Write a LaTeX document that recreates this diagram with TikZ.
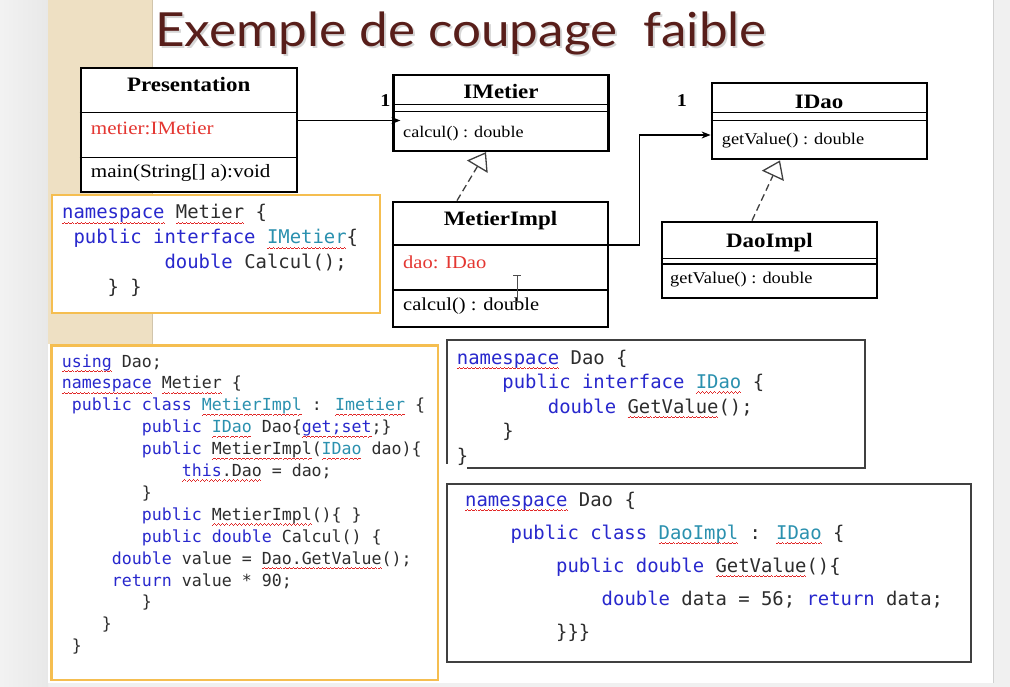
\documentclass[tikz,border=0pt]{standalone}
\usepackage{fontspec}
\usetikzlibrary{arrows.meta}
\setmainfont{Liberation Serif}
\newfontfamily\umlfont[FakeStretch=1.12]{Liberation Serif}
\newfontfamily\codefont{DejaVu Sans Mono}
\newfontfamily\titlefont[FakeStretch=1.09]{Lato}

\definecolor{kwblue}{RGB}{40,40,205}
\definecolor{tyteal}{RGB}{43,145,175}
\definecolor{codegray}{RGB}{45,45,45}
\definecolor{sqred}{RGB}{225,40,40}
\definecolor{attrred}{RGB}{228,55,50}
\definecolor{frameorange}{RGB}{245,190,80}
\definecolor{beige}{RGB}{238,224,195}
\definecolor{titlebrown}{RGB}{88,30,26}
\definecolor{pagegray}{RGB}{240,240,240}

% keyword / type colouring and the spell-checker wave under a word
\newcommand\kw[1]{\textcolor{kwblue}{#1}}
\newcommand\ty[1]{\textcolor{tyteal}{#1}}
\newcommand\wavecell{\rule[0pt]{1pt}{0.7pt}\rule[0.7pt]{1pt}{0.7pt}\rule[1.4pt]{1pt}{0.7pt}\rule[0.7pt]{1pt}{0.7pt}}
\newsavebox\sqbox
\newcommand\sq[1]{\sbox\sqbox{#1}\rlap{\raisebox{-5pt}[0pt][0pt]{\hbox to \wd\sqbox{\color{sqred}\xleaders\hbox{\wavecell}\hfill}}}\usebox\sqbox}
\newcommand\ind[1]{\hspace*{#1\fontcharwd\font`\0}}
% one code line: style, name, x, baseline y, text
\newcommand\cl[5]{\node[#1] (#2) at (#3,#4) {#5};}

\begin{document}
\begin{tikzpicture}[x=1pt,y=-1pt,
  umlbox/.style={draw=black, line width=2.2pt, fill=white, inner sep=0pt, minimum width=215pt},
  div/.style={line width=1.2pt},
  utitle/.style={font=\umlfont\bfseries\fontsize{20.5}{24}\selectfont, inner sep=0pt, anchor=base},
  utext/.style={font=\umlfont\fontsize{#1}{20}\selectfont, inner sep=0pt, anchor=base west},
  mult/.style={font=\umlfont\bfseries\fontsize{18}{20}\selectfont, inner sep=0pt},
  assoc/.style={line width=1.2pt, -{Stealth[length=9pt,width=7pt]}},
  realize/.style={line width=1.3pt, draw=black!75, dash pattern=on 7pt off 4pt,
    -{Triangle[open,length=17pt,width=24pt]}},
  codeA/.style={font=\codefont\fontsize{18.9}{22}\selectfont, text=codegray, inner sep=0pt, anchor=base west},
  codeB/.style={font=\codefont\fontsize{16.6}{20}\selectfont, text=codegray, inner sep=0pt, anchor=base west},
  orangeframe/.style={draw=frameorange, line width=2.5pt, fill=white},
  grayframe/.style={draw=black!75, line width=1.2pt}
]
\useasboundingbox (0,0) rectangle (1010,687);

% page, side margins and slide
\fill[pagegray] (0,0) rectangle (1010,687);
\shade[left color=black!5, right color=black!9] (0,0) rectangle (48,687);
\fill[white] (48,0) rectangle (993,683);
\draw[black!18, line width=1pt] (993,0) -- (993,683);
\fill[beige] (48,0) rectangle (153,344);
\draw[black!12!beige, line width=1pt] (152.5,0) -- (152.5,344);

% title with its soft shadow
\node[anchor=base west, inner sep=0pt, text=black!35, opacity=0.45] (titleshadow) at (157,49)
  {\titlefont\fontsize{47}{50}\selectfont Exemple de coupage\ \ faible};
\node[anchor=base west, inner sep=0pt, text=titlebrown] (title) at (155,47)
  {\titlefont\fontsize{47}{50}\selectfont Exemple de coupage\ \ faible};

% ---------- UML classes ----------
\node[umlbox, minimum width=216pt, minimum height=123.4pt] (P) at (188.7,130) {};
\draw[div] (P.west |- 0,112.3) -- (P.east |- 0,112.3);
\draw[div] (P.west |- 0,157.7) -- (P.east |- 0,157.7);
\node[utitle] (Pt) at (188.7,91.7) {Presentation};
\node[utext=18.8, text=attrred] (Pa) at (90.7,135) {metier:IMetier};
\node[utext=18.8] (Pm) at (90.7,177.3) {main(String[] a):void};

\node[umlbox, minimum height=76pt] (IM) at (501,113) {};
\draw[div] (IM.west |- 0,104.3) -- (IM.east |- 0,104.3);
\draw[div] (IM.west |- 0,111.7) -- (IM.east |- 0,111.7);
\node[utitle] (IMt) at (501,98.3) {IMetier};
\node[utext=16.2] (IMm) at (403,137.3) {calcul() : double};

\node[umlbox, minimum height=125pt] (MI) at (500.5,264.2) {};
\draw[div] (MI.west |- 0,245) -- (MI.east |- 0,245);
\draw[div] (MI.west |- 0,290) -- (MI.east |- 0,290);
\node[utitle] (MIt) at (500.5,225.7) {MetierImpl};
\node[utext=18.3, text=attrred] (MIa) at (403,268.3) {dao: IDao};
\node[utext=18.3] (MIm) at (403,310.7) {calcul() : double};

\node[umlbox, minimum height=76.6pt] (ID) at (819.2,121) {};
\draw[div] (ID.west |- 0,112.7) -- (ID.east |- 0,112.7);
\draw[div] (ID.west |- 0,120.2) -- (ID.east |- 0,120.2);
\node[utitle] (IDt) at (819.2,108.3) {IDao};
\node[utext=16.4] (IDm) at (721.7,145) {getValue() : double};

\node[umlbox, minimum width=215.6pt, minimum height=76.6pt] (DI) at (769.5,260) {};
\draw[div] (DI.west |- 0,258.3) -- (DI.east |- 0,258.3);
\draw[div] (DI.west |- 0,264) -- (DI.east |- 0,264);
\node[utitle] (DIt) at (769.5,247.3) {DaoImpl};
\node[utext=16.4] (DIm) at (670,283.3) {getValue() : double};

% multiplicities
\node[mult] (m1) at (385.5,100.5) {1};
\node[mult] (m2) at (682,101) {1};

% associations
\draw[assoc] (P.east |- 0,120.5) -- ([xshift=8pt]IM.west |- 0,120.5);
\draw[assoc] (MI.east |- 0,245) -- ++(30,0) |- (ID.west |- 0,135);

% realizations
\draw[realize] (MI.north -| 457,0) -- (IM.south -| 486,0);
\draw[realize] (DI.north -| 752,0) -- (ID.south -| 780,0);

% text cursor over MetierImpl
\draw[black!70, line width=1pt] (517,276) -- (517,301)
  (513,275.5) -- (521,275.5) (513,301.5) -- (521,301.5);

% ---------- code listings ----------
\draw[orangeframe] (52,195) rectangle (380,313);
\cl{codeA}{a1}{62}{219}{\kw{\sq{namespace}} \sq{Metier} \{}
\cl{codeA}{a2}{62}{244}{\ind{1}\kw{public interface} \ty{\sq{IMetier}}\{}
\cl{codeA}{a3}{62}{269}{\ind{9}\kw{double} Calcul();}
\cl{codeA}{a4}{62}{294}{\ind{4}\} \}}

\draw[orangeframe] (51.7,345.5) rectangle (438,680);
\cl{codeB}{b0}{61.7}{367}{\kw{\sq{using}} Dao;}
\cl{codeB}{b1}{61.7}{388.9}{\kw{\sq{namespace}} \sq{Metier} \{}
\cl{codeB}{b2}{61.7}{410.8}{\ind{1}\kw{public class} \ty{\sq{MetierImpl}} : \ty{\sq{Imetier}} \{}
\cl{codeB}{b3}{61.7}{432.7}{\ind{8}\kw{public} \ty{\sq{IDao}} Dao\{\kw{\sq{get;set}};\}}
\cl{codeB}{b4}{61.7}{454.6}{\ind{8}\kw{public} \sq{MetierImpl}(\ty{\sq{IDao}} dao)\{}
\cl{codeB}{b5}{61.7}{476.5}{\ind{12}\kw{\sq{this}}\sq{.Dao} = dao;}
\cl{codeB}{b6}{61.7}{498.4}{\ind{8}\}}
\cl{codeB}{b7}{61.7}{520.3}{\ind{8}\kw{public} \sq{MetierImpl}()\{ \}}
\cl{codeB}{b8}{61.7}{542.2}{\ind{8}\kw{public double} Calcul() \{}
\cl{codeB}{b9}{61.7}{564.1}{\ind{5}\kw{double} value = \sq{Dao.GetValue}();}
\cl{codeB}{b10}{61.7}{586}{\ind{5}\kw{return} value * 90;}
\cl{codeB}{b11}{61.7}{607.9}{\ind{8}\}}
\cl{codeB}{b12}{61.7}{629.8}{\ind{4}\}}
\cl{codeB}{b13}{61.7}{651.7}{\ind{1}\}}

\draw[grayframe] (467,468) -- (865,468) -- (865,340) -- (447,340) -- (447,464);
\cl{codeA}{c0}{456.7}{364}{\kw{\sq{namespace}} Dao \{}
\cl{codeA}{c1}{456.7}{388.5}{\ind{4}\kw{public interface} \ty{\sq{IDao}} \{}
\cl{codeA}{c2}{456.7}{413}{\ind{8}\kw{double} \sq{GetValue}();}
\cl{codeA}{c3}{456.7}{437.5}{\ind{4}\}}
\cl{codeA}{c4}{456.7}{462}{\}}

\draw[grayframe] (447,484) rectangle (971,662);
\cl{codeA}{d0}{465}{506}{\kw{\sq{namespace}} Dao \{}
\cl{codeA}{d1}{465}{539}{\ind{4}\kw{public class} \ty{\sq{DaoImpl}} : \ty{\sq{IDao}} \{}
\cl{codeA}{d2}{465}{572}{\ind{8}\kw{public double} \sq{GetValue}()\{}
\cl{codeA}{d3}{465}{605}{\ind{12}\kw{double} data = 56; \kw{return} data;}
\cl{codeA}{d4}{465}{638}{\ind{8}\}\}\}}
\end{tikzpicture}
\end{document}
